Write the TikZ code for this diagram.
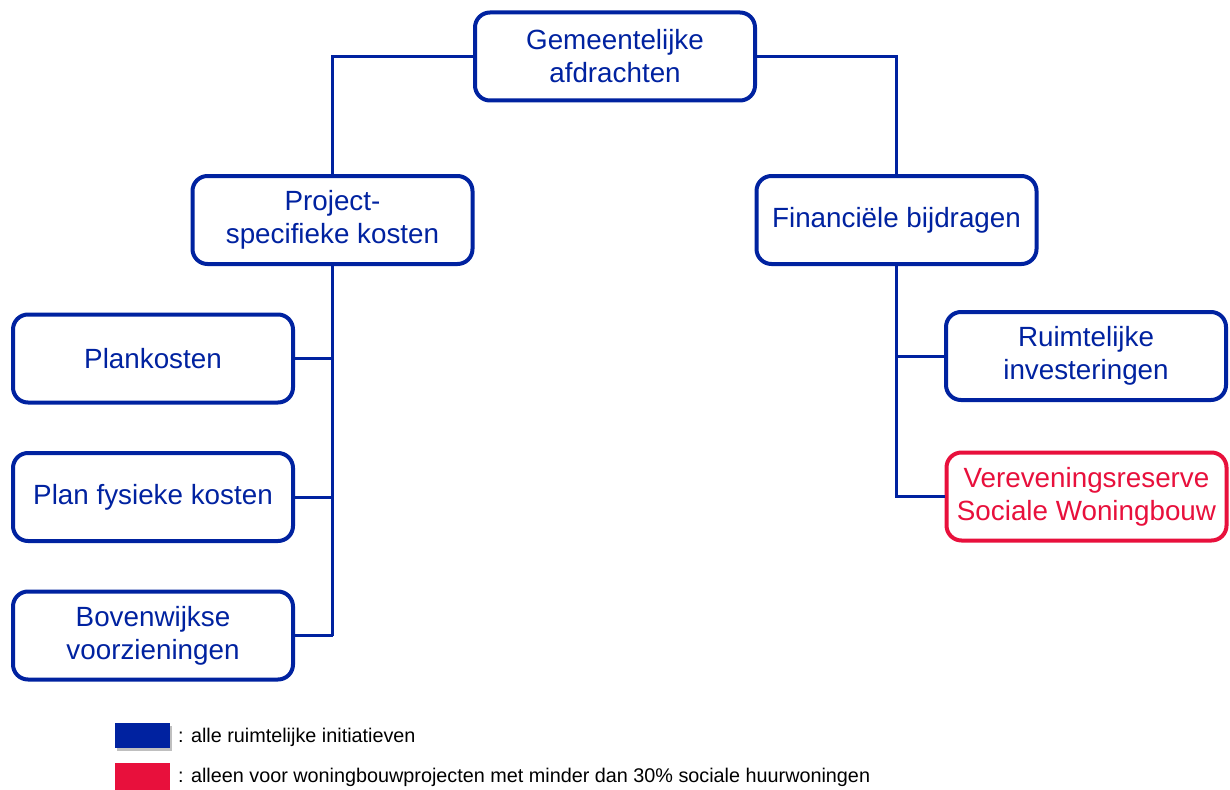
\documentclass[tikz,border=0pt]{standalone}
\usepackage{fontspec}
\setmainfont{Liberation Sans}
\definecolor{cblue}{RGB}{0,34,160}
\definecolor{cred}{RGB}{232,16,60}
\begin{document}
\begin{tikzpicture}[x=1pt,y=-1pt,
  box/.style={draw=cblue,line width=4pt,rounded corners=15pt,fill=white,
    minimum width=280pt,minimum height=88pt,align=center,text=cblue,
    font=\fontsize{27.8}{33}\selectfont,inner sep=0pt},
  redbox/.style={box,draw=cred,text=cred},
  conn/.style={draw=cblue,line width=3pt},
  legtext/.style={anchor=west,font=\fontsize{19.8}{22}\selectfont,inner sep=0pt}]
\useasboundingbox (0,0) rectangle (1230,789);
\clip (0,0) rectangle (1230,789);
% nodes
\node[box] (top) at (615,56.5) {Gemeentelijke\\afdrachten};
\node[box] (proj) at (332.5,220) {Project-\\specifieke kosten};
\node[box] (fin) at (896.5,220) {Financiële bijdragen};
\node[box] (plan) at (153,358.5) {Plankosten};
\node[box] (fys) at (153,497) {Plan fysieke kosten};
\node[box] (bov) at (153,635.5) {Bovenwijkse\\voorzieningen};
\node[box] (ruim) at (1086,356) {Ruimtelijke\\investeringen};
\node[redbox] (vere) at (1086.5,496.5) {Vereveningsreserve\\Sociale Woningbouw};
% connectors
\draw[conn] (top.west) -| (proj.north);
\draw[conn] (top.east) -| (fin.north);
\coordinate (pj) at (proj.south |- bov.east);
\draw[conn] (proj.south) -- (pj);
\draw[conn] (plan.east) -- (plan.east -| proj.south);
\draw[conn] (fys.east) -- (fys.east -| proj.south);
\draw[conn] (bov.east) -- (pj);
\coordinate (fj) at (fin.south |- vere.west);
\draw[conn] (fin.south) -- (fj) -- (vere.west);
\draw[conn] (ruim.west) -- (ruim.west -| fin.south);
% legend
\fill[black!25] (117,726) rectangle (172,751);
\node[fill=cblue,minimum width=55pt,minimum height=25pt,inner sep=0pt] (lb) at (142.5,735.5) {};
\node[fill=cred,minimum width=55pt,minimum height=28pt,inner sep=0pt] (lr) at (142.5,777) {};
\node[legtext] (lbt) at (178,737) {: alle ruimtelijke initiatieven};
\node[legtext] (lrt) at (178,777) {: alleen voor woningbouwprojecten met minder dan 30\% sociale huurwoningen};
\end{tikzpicture}
\end{document}
